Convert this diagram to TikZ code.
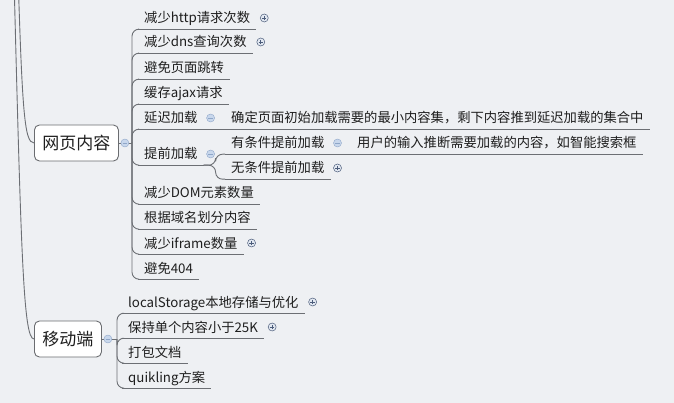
\documentclass[tikz,border=0pt]{standalone}
\usepackage{fontspec}
\setmainfont{Noto Sans CJK SC}

\definecolor{bgcol}{HTML}{EEF0F3}
\definecolor{linecol}{HTML}{6C6F74}
\definecolor{boxcol}{HTML}{6A6C70}
\definecolor{textcol}{HTML}{1E1E1E}
\definecolor{plusfill}{HTML}{E2E8F1}
\definecolor{plusline}{HTML}{4B5C7A}
\definecolor{minusfill}{HTML}{C8D7EC}
\definecolor{minusline}{HTML}{8EA6C8}

\tikzset{
  topic/.style={draw=boxcol, fill=white, rounded corners=5pt, line width=0.9pt,
    anchor=west, inner xsep=8pt, minimum height=36pt, text=textcol,
    font=\fontsize{17}{20}\selectfont},
  leaf/.style={anchor=west, inner xsep=6pt, inner ysep=0pt, minimum height=22pt,
    text height=11.5pt, text depth=1.5pt, text=textcol,
    font=\fontsize{13.3}{16}\selectfont},
  uline/.style={draw=linecol, line width=0.9pt},
  branch/.style={draw=linecol, line width=0.9pt, rounded corners=7pt},
  trunk/.style={draw=linecol, line width=0.9pt},
  minusbtn/.style={circle, fill=minusfill, draw=minusline, line width=0.4pt,
    minimum size=8pt, inner sep=0pt,
    path picture={\draw[minusline, line width=0.9pt]
      ([xshift=-2.2pt]path picture bounding box.center) --
      ([xshift=2.2pt]path picture bounding box.center);}},
  plusbtn/.style={circle, fill=plusfill, draw=plusline, line width=0.5pt,
    minimum size=8pt, inner sep=0pt,
    path picture={\draw[plusline, line width=0.8pt]
      ([xshift=-2.2pt]path picture bounding box.center) --
      ([xshift=2.2pt]path picture bounding box.center)
      ([yshift=-2.2pt]path picture bounding box.center) --
      ([yshift=2.2pt]path picture bounding box.center);}}
}

\begin{document}
\begin{tikzpicture}[x=1pt,y=-1pt]
\useasboundingbox (0,0) rectangle (674,403);
\clip (0,0) rectangle (674,403);
\fill[bgcol] (0,0) rectangle (674,403);

% draw the two main topics
\node[topic] (wy) at (34,143) {网页内容};
\node[topic] (yd) at (34,339) {移动端};

% draw lines coming from the root above
\coordinate (root-wy) at (17,-60);
\coordinate (root-yd) at (13,-60);
\draw[trunk] (root-wy) .. controls (22,110) and (24,143) .. (wy.west);
\draw[trunk] (root-yd) .. controls (21,250) and (23,339) .. (yd.west);

% draw nodes under 网页内容
\node[leaf] (http) at (138,18) {减少http请求次数};
\node[leaf] (dns) at (138,42) {减少dns查询次数};
\node[leaf] (tiaozhuan) at (138,68) {避免页面跳转};
\node[leaf] (ajax) at (138,93) {缓存ajax请求};
\node[leaf] (yanchi) at (138,118) {延迟加载};
\node[leaf] (tiqian) at (138,154) {提前加载};
\node[leaf] (dom) at (138,193) {减少DOM元素数量};
\node[leaf] (yuming) at (138,218) {根据域名划分内容};
\node[leaf] (iframe) at (138,243) {减少iframe数量};
\node[leaf] (e404) at (138,268) {避免404};

% draw the deeper nodes
\node[leaf] (yanchi-a) at (225,118) {确定页面初始加载需要的最小内容集，剩下内容推到延迟加载的集合中};
\node[leaf] (youtj) at (225,143) {有条件提前加载};
\node[leaf] (youtj-a) at (351,143) {用户的输入推断需要加载的内容，如智能搜索框};
\node[leaf] (wutj) at (225,168) {无条件提前加载};

% draw nodes under 移动端
\node[leaf] (storage) at (122,302) {localStorage本地存储与优化};
\node[leaf] (size) at (122,327) {保持单个内容小于25K};
\node[leaf] (dabao) at (122,352) {打包文档};
\node[leaf] (quik) at (122,377) {quikling方案};

% draw underlines
\foreach \n in {http,dns,tiaozhuan,ajax,yanchi,tiqian,dom,yuming,iframe,e404,
  yanchi-a,youtj,youtj-a,wutj,storage,size,dabao,quik}
\draw[uline] (\n.south west) -- (\n.south east);

% draw branches of 网页内容
\coordinate (wy-j) at (132,143);
\draw[uline] (wy.east) -- (wy-j);
\foreach \n in {http,dns,tiaozhuan,ajax,yanchi,tiqian,dom,yuming,iframe,e404}
\draw[branch] (wy-j) |- (\n.south west);

% draw branches of 移动端
\coordinate (yd-j) at (117,339);
\draw[uline] (yd.east) -- (yd-j);
\foreach \n in {storage,size,dabao,quik}
\draw[branch] (yd-j) |- (\n.south west);

% draw the deeper branches
\coordinate (tq-j) at ([xshift=12pt]tiqian.south east);
\draw[branch] (yanchi.south east) -- (yanchi-a.south west);
\draw[branch] (tiqian.south east) -- (tq-j) |- (youtj.south west);
\draw[branch] (tiqian.south east) -- (tq-j) |- (wutj.south west);
\draw[branch] (youtj.south east) -- (youtj-a.south west);

% draw collapse and expand buttons
\node[minusbtn] (wy-btn) at ([xshift=6pt]wy.east) {};
\node[minusbtn] (yd-btn) at ([xshift=6pt]yd.east) {};
\node[minusbtn] (yanchi-btn) at ([xshift=7pt]yanchi.east) {};
\node[minusbtn] (tiqian-btn) at ([xshift=7pt]tiqian.east) {};
\node[minusbtn] (youtj-btn) at ([xshift=7pt]youtj.east) {};
\node[plusbtn] (http-btn) at ([xshift=8pt]http.east) {};
\node[plusbtn] (dns-btn) at ([xshift=8pt]dns.east) {};
\node[plusbtn] (iframe-btn) at ([xshift=8pt]iframe.east) {};
\node[plusbtn] (wutj-btn) at ([xshift=7pt]wutj.east) {};
\node[plusbtn] (storage-btn) at ([xshift=8pt]storage.east) {};
\node[plusbtn] (size-btn) at ([xshift=8pt]size.east) {};
\end{tikzpicture}
\end{document}
